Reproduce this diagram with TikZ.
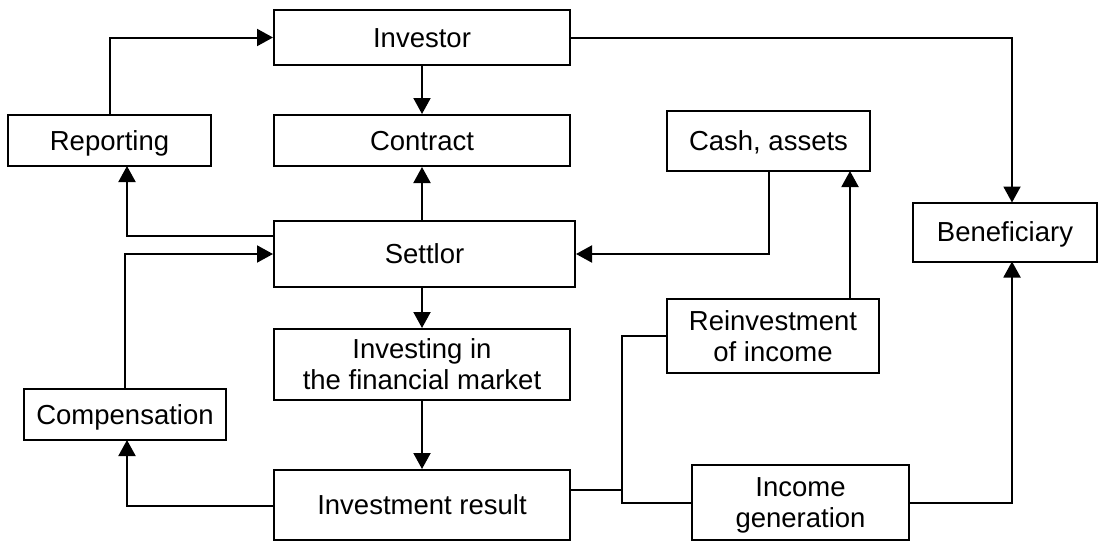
\documentclass[tikz,border=0pt]{standalone}
\usepackage{fontspec}
\setmainfont{Liberation Sans}
\usetikzlibrary{arrows.meta}
\begin{document}
\begin{tikzpicture}[x=1pt,y=-1pt,
  box/.style={draw, line width=2pt, minimum width=#1, inner sep=0pt, align=center,
    font=\fontsize{27.5}{31}\selectfont},
  oneline/.style={text height=19.8pt, text depth=0pt},
  twoline/.style={text height=50.8pt, text depth=0pt},
  link/.style={line width=2pt},
  arr/.style={line width=2pt, -{Triangle[length=16pt,width=17pt]}}]
\useasboundingbox (0,0) rectangle (1099,541);

% boxes
\node[box=296pt, oneline, minimum height=55pt] (investor) at (422,37.5) {Investor};
\node[box=296pt, oneline, minimum height=51pt] (contract) at (422,140.5) {Contract};
\node[box=203pt, oneline, minimum height=51pt] (reporting) at (109.5,140.5) {Reporting};
\node[box=203pt, oneline, minimum height=60pt] (cash) at (768.5,141) {Cash, assets};
\node[box=184pt, oneline, minimum height=59pt] (benef) at (1005,232) {Beneficiary};
\node[box=301pt, oneline, minimum height=66pt] (settlor) at (424.5,254) {Settlor};
\node[box=296pt, twoline, minimum height=71pt] (investing) at (422,364.5) {Investing in\\the financial market};
\node[box=212pt, twoline, minimum height=74pt] (reinvest) at (773,336) {Reinvestment\\of income};
\node[box=202pt, oneline, minimum height=51pt] (comp) at (125,414.5) {Compensation};
\node[box=296pt, oneline, minimum height=70pt] (result) at (422,505) {Investment result};
\node[box=217pt, twoline, minimum height=75pt] (income) at (800.5,502.5) {Income\\generation};

% junction points
\coordinate (benTop) at (1012,202.5);
\coordinate (benBot) at (1012,261.5);
\coordinate (repIn) at (127,166);
\coordinate (compIn) at (127,440);
\coordinate (setOut) at (274,236);
\coordinate (resOut) at (274,506);
\coordinate (resRight) at (570,490);
\coordinate (split) at (622,490);
\coordinate (cashIn) at (850,171);

% connectors
\draw[arr] (reporting.north) |- (investor.west);
\draw[arr] (investor.south) -- (contract.north);
\draw[arr] (investor.east) -| (benTop);
\draw[arr] (settlor.north -| contract.south) -- (contract.south);
\draw[arr] (setOut) -| (repIn);
\draw[arr] (comp.north) |- (settlor.west);
\draw[arr] (cash.south) |- (settlor.east);
\draw[arr] (investing.north |- settlor.south) -- (investing.north);
\draw[arr] (investing.south) -- (result.north);
\draw[arr] (resOut) -| (compIn);
\draw[link] (resRight) -- (split);
\draw[link] (reinvest.west) -| (split |- income.west) -- (income.west);
\draw[arr] (reinvest.north -| cashIn) -- (cashIn);
\draw[arr] (income.east) -| (benBot);
\end{tikzpicture}
\end{document}
